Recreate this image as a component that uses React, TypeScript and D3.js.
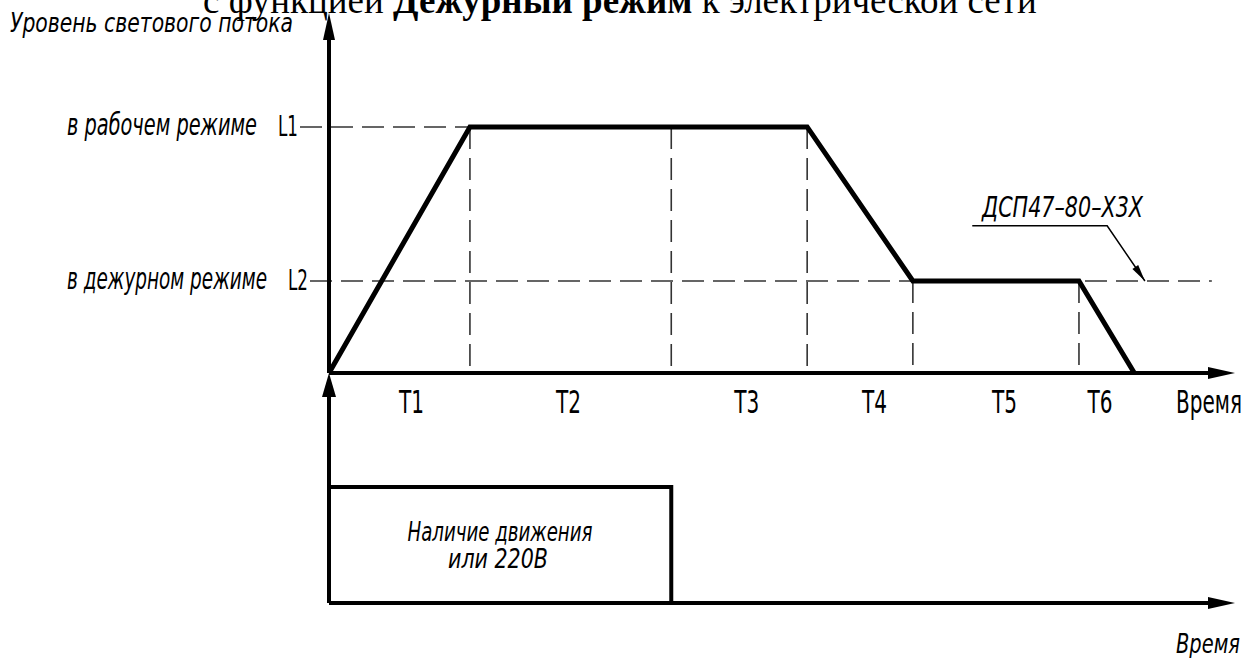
import React from 'react';
import * as d3 from 'd3';

// фазы работы светильника
const phaseLabels = ['T1', 'T2', 'T3', 'T4', 'T5', 'T6'];
const phaseLabelAt = [8.2, 23.8, 41.5, 54.2, 67.1, 76.6];
const phaseBounds = [14, 34, 47.5, 58, 74.5];

// уровень светового потока во времени
const lightTimes = [0, 14, 47.5, 58, 74.5, 80];
const lightLevels = [0, 1, 1, 0.374, 0.374, 0];

// уровни L1 / L2
const levelCodes = ['L1', 'L2'];
const levelNames = ['в рабочем режиме', 'в дежурном режиме'];
const levelValues = [1, 0.374];
const levelLineEnd = [47.5, 87.7];

// сигнал движения / 220В
const motionTimes = [0, 34];
const motionLines = ['Наличие движения', 'или 220В'];

// выноска
const leaderText = 'ДСП47–80–Х3Х';
const leaderTimes = [63.9, 77.3, 81.05];
const leaderLevels = [0.598, 0.598, 0.374];

// заголовок
const titleParts = ['с функцией ', 'Дежурный режим', ' к электрической сети'];

const W = 1246;
const H = 658;
const gost = "'DejaVu Sans Condensed', 'DejaVu Sans', sans-serif";
const serif = "'Liberation Serif', 'Times New Roman', serif";

export default function App() {
  const x = d3.scaleLinear().domain([0, 90]).range([329, 1235]);
  const y = d3.scaleLinear().domain([0, 1.463]).range([373, 13]); // верхний график
  const y2 = d3.scaleLinear().domain([0, 1]).range([603, 487]); // нижний график
  const levelAt = d3.scaleLinear().domain(lightTimes).range(lightLevels);

  const line = d3.line<number>()
    .x((d) => x(d))
    .y((d, i) => y(lightLevels[i]));

  const x0 = x(0);
  const xEnd = x.range()[1];
  const dash = '22,9';

  const arrow = (tx: number, ty: number, dir: 'up' | 'right', len = 27, hw = 6) => {
    if (dir === 'up') return `M${tx},${ty}L${tx - hw},${ty + len}L${tx + hw},${ty + len}Z`;
    return `M${tx},${ty}L${tx - len},${ty - hw}L${tx - len},${ty + hw}Z`;
  };

  // стрелка выноски
  const lx = leaderTimes.map((t) => x(t));
  const ly = leaderLevels.map((l) => y(l));
  const ang = Math.atan2(ly[2] - ly[1], lx[2] - lx[1]);
  const aLen = 17;
  const aHw = 3.5;
  const bx = lx[2] - aLen * Math.cos(ang);
  const by = ly[2] - aLen * Math.sin(ang);
  const leaderHead = `M${lx[2]},${ly[2]}L${bx - aHw * Math.sin(ang)},${by + aHw * Math.cos(ang)}L${bx + aHw * Math.sin(ang)},${by - aHw * Math.cos(ang)}Z`;

  const codeEnd = [300, 310];
  const nameEnd = [257, 267];
  const nameWidth = [190, 200];

  return (
    <div style={{ position: 'absolute', left: 0, top: 0 }}>
      <svg width={W} height={H} style={{ display: 'block', background: '#fff' }}>
        {/* заголовок (обрезан сверху) */}
        <text x={203} y={13} fontFamily={serif} fontSize={37} fill="#000" style={{ whiteSpace: 'pre' }}>
          {titleParts.map((t, i) => (
            <tspan key={t} fontWeight={i === 1 ? 'bold' : 'normal'}>{t}</tspan>
          ))}
        </text>

        {/* подпись оси Y */}
        <text x={10} y={32} fontFamily={gost} fontStyle="italic" fontSize={26} textLength={283} lengthAdjust="spacingAndGlyphs">
          Уровень светового потока
        </text>

        {/* пунктир уровней */}
        {levelValues.map((v, i) => (
          <line key={'lv' + i} x1={codeEnd[i]} x2={x(levelLineEnd[i])} y1={y(v)} y2={y(v)}
            stroke="#333" strokeWidth={1.6} strokeDasharray={dash} />
        ))}
        {/* пунктир границ фаз */}
        {phaseBounds.map((t, i) => (
          <line key={'pb' + i} x1={x(t)} x2={x(t)} y1={y(levelAt(t))} y2={y(0)}
            stroke="#333" strokeWidth={1.6} strokeDasharray={dash} />
        ))}

        {/* подписи уровней */}
        {levelValues.map((v, i) => (
          <g key={'ln' + i}>
            <text x={nameEnd[i]} y={y(v) + 8} textAnchor="end" fontFamily={gost} fontStyle="italic" fontSize={31}
              textLength={nameWidth[i]} lengthAdjust="spacingAndGlyphs">{levelNames[i]}</text>
            <text x={codeEnd[i] - 2} y={y(v) + 9} textAnchor="end" fontFamily={gost} fontSize={28}
              textLength={20} lengthAdjust="spacingAndGlyphs">{levelCodes[i]}</text>
          </g>
        ))}

        {/* оси верхнего графика */}
        <line x1={x0} x2={x0} y1={y(0)} y2={y.range()[1] + 20} stroke="#000" strokeWidth={4} />
        <path d={arrow(x0, y.range()[1], 'up')} fill="#000" />
        <line x1={x0} x2={xEnd - 20} y1={y(0)} y2={y(0)} stroke="#000" strokeWidth={4} />
        <path d={arrow(xEnd, y(0), 'right')} fill="#000" />

        {/* кривая светового потока */}
        <path d={line(lightTimes) || ''} fill="none" stroke="#000" strokeWidth={5} strokeLinejoin="miter" />

        {/* подписи фаз */}
        {phaseLabels.map((p, i) => (
          <text key={p} x={x(phaseLabelAt[i])} y={413} textAnchor="middle" fontFamily={gost} fontSize={32}
            textLength={25} lengthAdjust="spacingAndGlyphs">{p}</text>
        ))}
        <text x={1176} y={413} fontFamily={gost} fontSize={32} textLength={66} lengthAdjust="spacingAndGlyphs">Время</text>

        {/* выноска */}
        <polyline points={lx.map((v, i) => `${v},${ly[i]}`).join(' ')} fill="none" stroke="#000" strokeWidth={1.5} />
        <path d={leaderHead} fill="#000" />
        <text x={982} y={217} fontFamily={gost} fontStyle="italic" fontSize={29} textLength={161} lengthAdjust="spacingAndGlyphs">
          {leaderText}
        </text>

        {/* нижний график */}
        <line x1={x0} x2={x0} y1={y2(0)} y2={y(0) + 20} stroke="#000" strokeWidth={4} />
        <path d={arrow(x0, y(0), 'up', 24, 7)} fill="#000" />
        <line x1={x0} x2={xEnd - 20} y1={y2(0)} y2={y2(0)} stroke="#000" strokeWidth={4} />
        <path d={arrow(xEnd, y2(0), 'right')} fill="#000" />
        <path d={`M${x(motionTimes[0])},${y2(1)}H${x(motionTimes[1])}V${y2(0)}`} fill="none" stroke="#000" strokeWidth={4} />
        <text x={500} y={541} textAnchor="middle" fontFamily={gost} fontStyle="italic" fontSize={26}
          textLength={185} lengthAdjust="spacingAndGlyphs">{motionLines[0]}</text>
        <text x={498} y={568} textAnchor="middle" fontFamily={gost} fontStyle="italic" fontSize={26}
          textLength={100} lengthAdjust="spacingAndGlyphs">{motionLines[1]}</text>
        <text x={1176} y={653} fontFamily={gost} fontStyle="italic" fontSize={27} textLength={64} lengthAdjust="spacingAndGlyphs">Время</text>
      </svg>
    </div>
  );
}
